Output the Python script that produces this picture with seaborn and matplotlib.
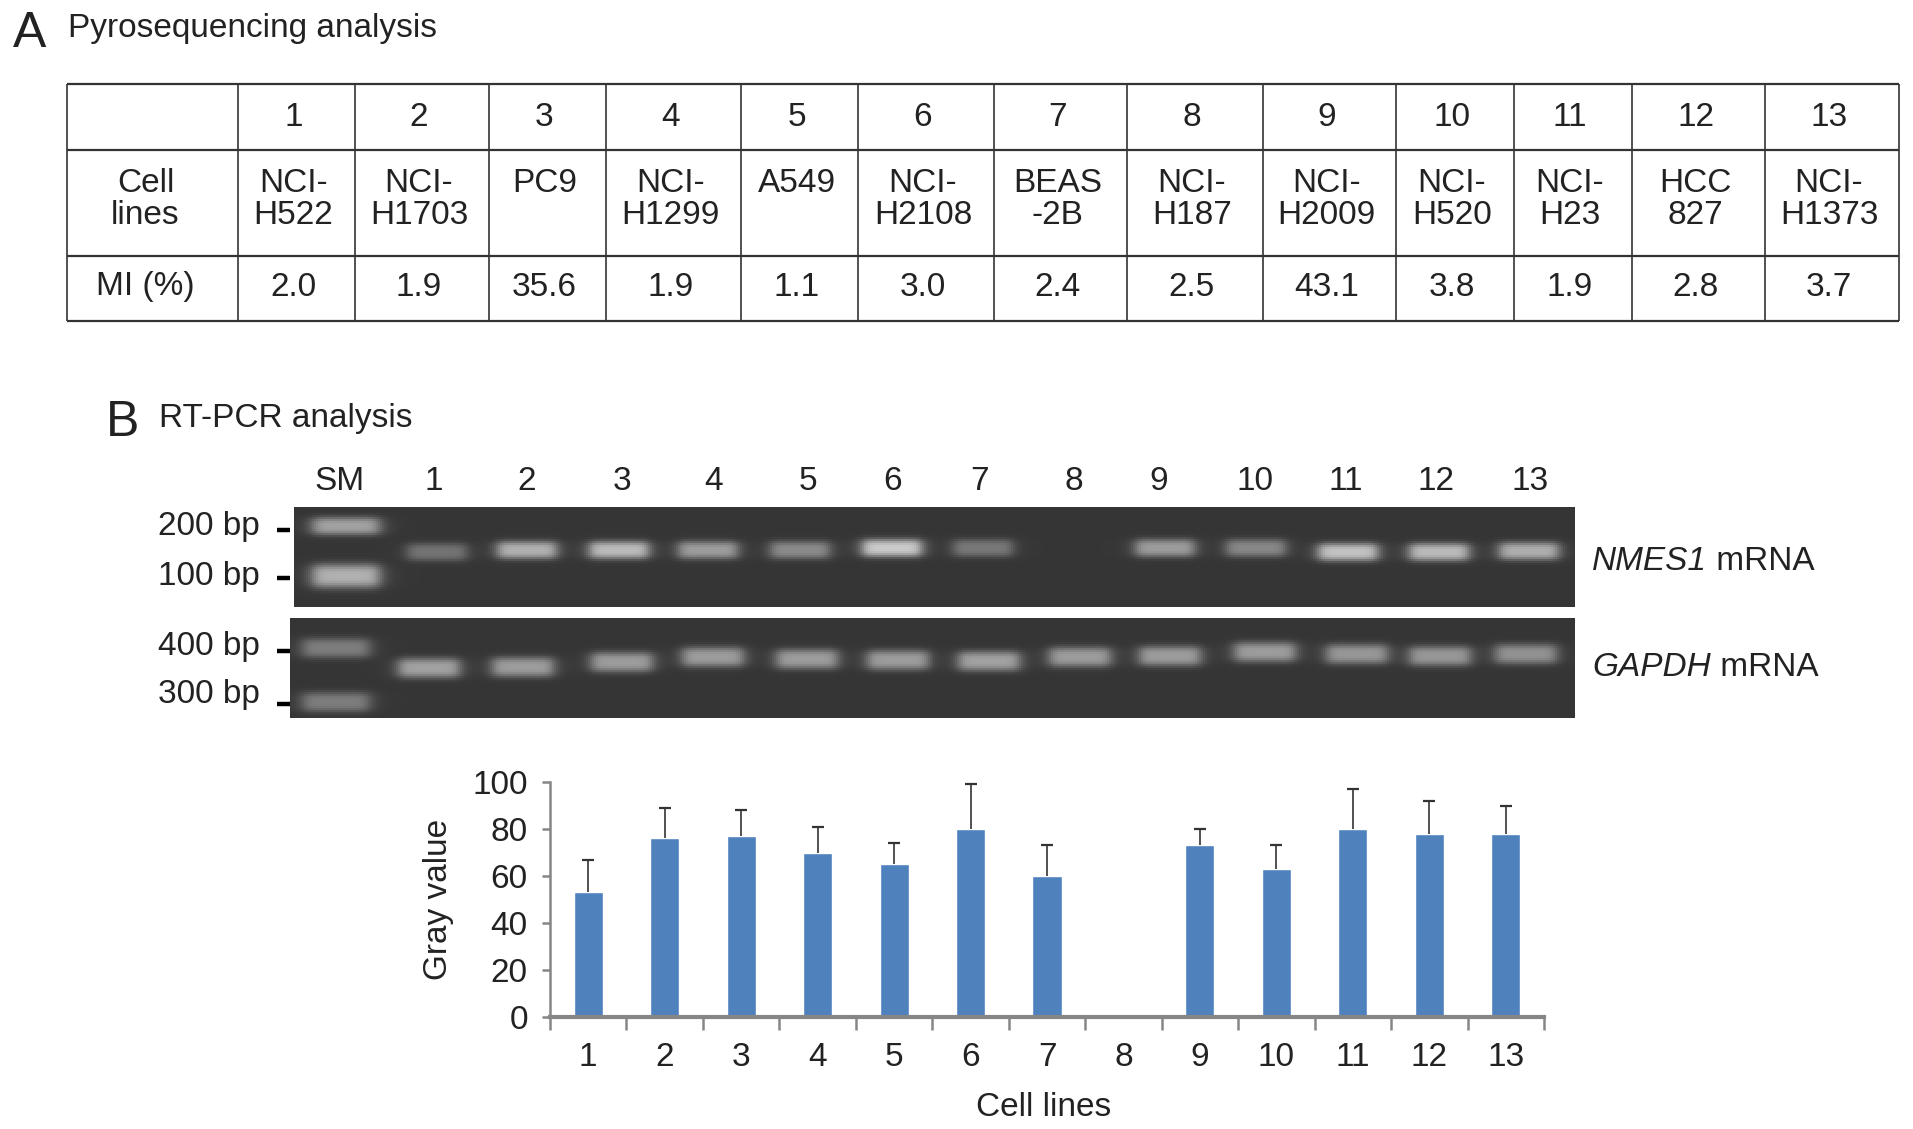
import numpy as np
import pandas as pd
import matplotlib
matplotlib.use("AGG")
import matplotlib.pyplot as plt
import seaborn as sns

W, H = 1913, 1129

# table data
table_ids = ["1", "2", "3", "4", "5", "6", "7", "8", "9", "10", "11", "12", "13"]
cell_lines = ["NCI-\nH522", "NCI-\nH1703", "PC9", "NCI-\nH1299", "A549", "NCI-\nH2108", "BEAS\n-2B",
              "NCI-\nH187", "NCI-\nH2009", "NCI-\nH520", "NCI-\nH23", "HCC\n827", "NCI-\nH1373"]
mi_values = ["2.0", "1.9", "35.6", "1.9", "1.1", "3.0", "2.4", "2.5", "43.1", "3.8", "1.9", "2.8", "3.7"]

# bar data
gray_value = [53, 76, 77, 70, 65, 80, 60, np.nan, 73, 63, 80, 78, 78]
gray_err = [14, 13, 11, 11, 9, 19, 13, np.nan, 7, 10, 17, 14, 12]

# gel band brightness, lanes SM then 1-13
nmes1_level = [0.42, 0.24, 0.48, 0.52, 0.40, 0.33, 0.58, 0.26, 0.0, 0.40, 0.32, 0.55, 0.52, 0.47]
gapdh_level = [0.28, 0.42, 0.40, 0.40, 0.40, 0.40, 0.40, 0.42, 0.40, 0.40, 0.40, 0.38, 0.38, 0.36]

# layout, figure pixels
col_edges = [67, 238, 355, 489, 606, 741, 858, 994, 1127, 1263, 1396, 1514, 1632, 1765, 1899]
row_edges = [84, 150, 256, 321]
gel_lane_num_x = [434, 527, 622, 714, 808, 893, 980, 1074, 1159, 1255, 1346, 1436, 1530]
nmes1_x = [437, 527, 619, 708, 800, 892, 984, 1074, 1166, 1257, 1349, 1440, 1530]
nmes1_y = [552, 550, 550, 550, 550, 548, 548, 548, 548, 548, 552, 552, 551]
gapdh_x = [429, 523, 622, 713, 807, 898, 990, 1081, 1171, 1266, 1358, 1441, 1527]
gapdh_y = [668, 667, 662, 657, 659, 660, 661, 657, 656, 652, 654, 656, 654]

sns.set_theme(style="white")
plt.rcParams['font.family'] = ['Liberation Sans', 'DejaVu Sans']
plt.rcParams['text.color'] = '#222222'
FS = 24


def px_axes(fig, x0, y0, x1, y1):
    return fig.add_axes([x0 / W, 1 - y1 / H, (x1 - x0) / W, (y1 - y0) / H])


def gel_matrix(x0, y0, x1, y1, bands, bg=0.21):
    # soft edged bands on a dark background, one cell per 2 px
    xs = np.arange(x0, x1, 2) + 1.0
    ys = np.arange(y0, y1, 2) + 1.0
    img = np.full((len(ys), len(xs)), bg)
    for bx, by, bw, bh, level in bands:
        gx = 1 / (1 + ((xs - bx) / (bw / 2)) ** 8)
        gy = np.exp(-np.abs((ys - by) / (bh / 2)) ** 3)
        img += level * np.outer(gy, gx)
    return np.clip(img, 0, 1)


def draw_gel(fig, x0, y0, x1, y1, bands):
    ax = px_axes(fig, x0, y0, x1, y1)
    sns.heatmap(gel_matrix(x0, y0, x1, y1, bands), ax=ax, cmap="gray", vmin=0, vmax=1,
                cbar=False, xticklabels=False, yticklabels=False, rasterized=True)
    for s in ax.spines.values():
        s.set_visible(False)
    return ax


fig = plt.figure(figsize=(W / 100, H / 100), dpi=100, facecolor="white")

# background axes in pixel coordinates for table and labels
bg = fig.add_axes([0, 0, 1, 1])
bg.set_xlim(0, W)
bg.set_ylim(H, 0)
bg.axis("off")

bg.text(13, 34, "A", fontsize=36, ha="left", va="center")
bg.text(68, 28, "Pyrosequencing analysis", fontsize=FS, ha="left", va="center")
bg.text(106, 423, "B", fontsize=36, ha="left", va="center")
bg.text(159, 418, "RT-PCR analysis", fontsize=FS, ha="left", va="center")

# table grid
for y in row_edges:
    bg.plot([col_edges[0], col_edges[-1]], [y, y], color="#333333", lw=1.6, solid_capstyle="butt")
for x in col_edges:
    bg.plot([x, x], [row_edges[0], row_edges[-1]], color="#333333", lw=1.2, solid_capstyle="butt")

first_cx = (col_edges[0] + col_edges[1]) / 2 - 7
bg.text(first_cx, 168, "Cell\nlines", fontsize=FS, ha="center", va="top", linespacing=1.03)
bg.text(first_cx, 287, "MI (%)", fontsize=FS, ha="center", va="center")
for i in range(13):
    cx = (col_edges[i + 1] + col_edges[i + 2]) / 2 - 3
    bg.text(cx, 117, table_ids[i], fontsize=FS, ha="center", va="center")
    bg.text(cx, 168, cell_lines[i], fontsize=FS, ha="center", va="top", linespacing=1.03)
    bg.text(cx, 287, mi_values[i], fontsize=FS, ha="center", va="center")

# gel labels
bg.text(340, 482, "SM", fontsize=FS, ha="center", va="center")
for x, lab in zip(gel_lane_num_x, table_ids):
    bg.text(x, 482, lab, fontsize=FS, ha="center", va="center")
for y, lab in zip([527, 577, 646, 694], ["200 bp", "100 bp", "400 bp", "300 bp"]):
    bg.text(260, y, lab, fontsize=FS, ha="right", va="center")
for y in [530, 578, 651, 704]:
    bg.plot([277, 290], [y, y], color="black", lw=3.2, solid_capstyle="butt")
for y, gene in zip([561, 668], ["NMES1", "GAPDH"]):
    t = bg.text(1592, y, gene, fontsize=FS, ha="left", va="center", style="italic")
    bg.annotate(" mRNA", xycoords=t, xy=(1, 0.5), fontsize=FS, ha="left", va="center", color="#222222")

# gels
bands1 = [(346, 526, 68, 18, nmes1_level[0]), (346, 576, 68, 24, nmes1_level[0] + 0.06)]
for i in range(13):
    if nmes1_level[i + 1] > 0:
        bands1.append((nmes1_x[i], nmes1_y[i], 60, 18, nmes1_level[i + 1]))
draw_gel(fig, 294, 507, 1575, 607, bands1)

bands2 = [(336, 648, 68, 20, gapdh_level[0]), (336, 702, 68, 20, gapdh_level[0])]
for i in range(13):
    bands2.append((gapdh_x[i], gapdh_y[i], 62, 20, gapdh_level[i + 1]))
draw_gel(fig, 290, 618, 1575, 718, bands2)

# bar chart
df = pd.DataFrame({"Cell lines": table_ids, "Gray value": gray_value})
ax = px_axes(fig, 550, 782, 1544, 1017)
ax.patch.set_alpha(0)
sns.barplot(data=df, x="Cell lines", y="Gray value", color="#4F81BD", saturation=1, width=0.38, ax=ax)
pos = np.arange(len(gray_value))
_, caps, _ = ax.errorbar(pos, gray_value, yerr=[np.zeros(len(gray_err)), gray_err], fmt="none",
                         ecolor="#333333", elinewidth=1.2, capsize=4, capthick=1.6)
caps[0].set_visible(False)
ax.set_xlim(-0.5, 12.5)
ax.set_ylim(0, 100)
ax.set_yticks([0, 20, 40, 60, 80, 100])
ax.set_xticks(pos)
ax.set_xticks(np.arange(-0.5, 13, 1), minor=True)
ax.tick_params(axis="x", which="major", length=0, pad=18, labelsize=FS, labelcolor="#222222")
ax.tick_params(axis="x", which="minor", length=9, width=1.8, color="#868686", bottom=True)
ax.tick_params(axis="y", length=6, width=1.8, color="#868686", left=True, pad=10,
               labelsize=FS, labelcolor="#222222")
sns.despine(ax=ax)
ax.spines["left"].set_color("#868686")
ax.spines["left"].set_linewidth(1.8)
ax.spines["bottom"].set_color("#868686")
ax.spines["bottom"].set_linewidth(3)
ax.set_xlabel("")
ax.set_ylabel("")
bg.text(1044, 1107, "Cell lines", fontsize=FS, ha="center", va="center")
bg.text(438, 899, "Gray value", fontsize=FS, ha="center", va="center", rotation=90)

fig.savefig("out.png", dpi=100)
